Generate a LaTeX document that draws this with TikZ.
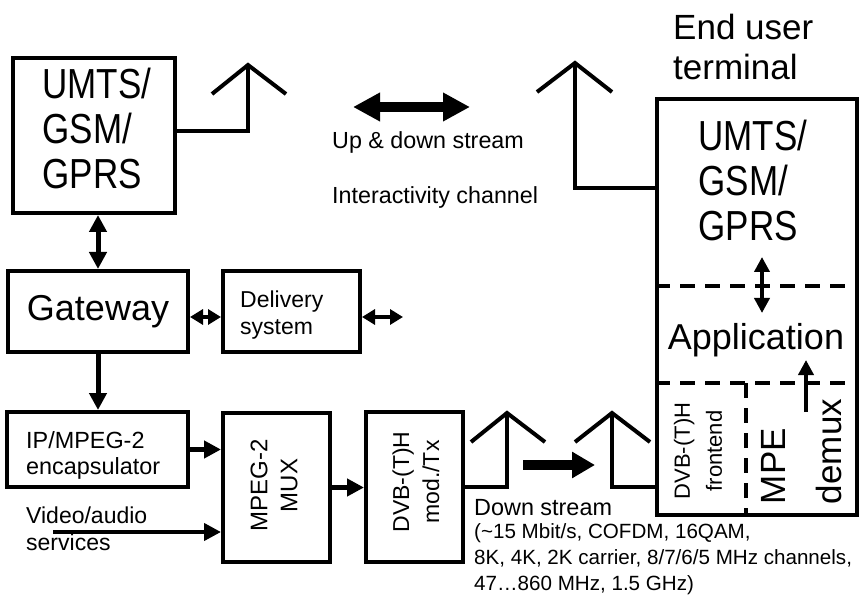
\documentclass[tikz,border=0pt]{standalone}
\usepackage{fontspec}
\setmainfont{Liberation Sans}
\usetikzlibrary{arrows.meta}
\newcommand\fs[2]{\fontsize{#1}{#2}\selectfont}
\begin{document}
\begin{tikzpicture}[x=1pt,y=-1pt,
  box/.style={draw, line width=4pt, inner sep=0pt},
  txt/.style={inner sep=0pt, align=left},
  ant/.style={line width=4pt},
  dashline/.style={line width=4pt, dash pattern=on 15pt off 10pt},
  arr/.style={line width=5pt, -{Triangle[length=17pt,width=17pt]}},
  darr/.style={line width=5pt, {Triangle[length=17pt,width=17pt]}-{Triangle[length=17pt,width=17pt]}},
  sdarr/.style={line width=4pt, {Triangle[length=13pt,width=15pt]}-{Triangle[length=13pt,width=15pt]}},
  tdarr/.style={line width=4pt, {Triangle[length=15pt,width=15pt]}-{Triangle[length=15pt,width=15pt]}},
  tarr/.style={line width=4pt, -{Triangle[length=15pt,width=15pt]}},
  bigdarr/.style={line width=10pt, {Triangle[length=27pt,width=27pt]}-{Triangle[length=27pt,width=27pt]}},
  bigarr/.style={line width=10pt, -{Triangle[length=23pt,width=25pt]}},
]
\useasboundingbox (0,0) rectangle (863,596);

% ---------- left side boxes ----------
\node[box, minimum width=162pt, minimum height=155pt] (umts) at (94,135.5) {};
\node[txt, font=\fs{35}{37.5}] (umtsT) at (97,135) {\scalebox{1}[1.2]{\begin{tabular}{@{}l@{}}UMTS/\\GSM/\\GPRS\end{tabular}}};

\node[box, minimum width=180pt, minimum height=81pt, font=\fs{36}{40}] (gw) at (98,311.5) {Gateway};

\node[box, minimum width=137pt, minimum height=81pt] (del) at (291.5,311.5) {};
\node[txt, anchor=west, font=\fs{23}{27}] (delT) at (240,315.5) {Delivery\\system};

\node[box, minimum width=181pt, minimum height=75pt] (ip) at (97.5,449.5) {};
\node[txt, anchor=west, font=\fs{23.4}{26}] (ipT) at (26,455) {IP/MPEG-2\\encapsulator};

\node[box, minimum width=107pt, minimum height=149pt] (mux) at (276.5,487.5) {};
\node[txt, align=center, rotate=90, font=\fs{24}{30}] (muxT) at (274,485.5) {MPEG-2\\MUX};

\node[box, minimum width=97pt, minimum height=150pt] (dvb) at (414.5,487) {};
\node[txt, align=center, rotate=90, font=\fs{23}{30}] (dvbT) at (416,482) {DVB-(T)H\\mod./Tx};

\node[txt, anchor=west, font=\fs{23}{27}] (vidT) at (26,528.5) {Video/audio\\services};

% ---------- end user terminal ----------
\node[box, minimum width=200pt, minimum height=416pt] (term) at (757,307) {};
\node[txt, anchor=west, font=\fs{35}{40}] (eut) at (673,47) {End user\\terminal};
\node[txt, font=\fs{35}{37.5}] (tumts) at (753,187) {\scalebox{1}[1.2]{\begin{tabular}{@{}l@{}}UMTS/\\GSM/\\GPRS\end{tabular}}};
\node[txt, font=\fs{36}{40}] (app) at (756,340) {Application};
\node[txt, align=center, rotate=90, font=\fs{22}{32}] (fe) at (698,451) {DVB-(T)H\\frontend};
\node[txt, align=left, rotate=90, font=\fs{35}{56}] (mpe) at (802,451.5) {MPE\\demux};

\coordinate (d1) at (0,286);
\coordinate (d2) at (0,383);
\coordinate (v1) at (746,383);
\draw[dashline] (term.west |- d1) -- (term.east |- d1);
\draw[dashline] (term.west |- d2) -- (term.east |- d2);
\draw[dashline] (v1) -- (v1 |- term.south);

\coordinate (t1) at (762,257);
\coordinate (t2) at (762,313);
\draw[tdarr] (t1) -- (t2);
\coordinate (t3) at (806,412);
\coordinate (t4) at (806,360);
\draw[tarr] (t3) -- (t4);

% ---------- connectors ----------
\draw[darr] (gw.north |- umts.south) -- (gw.north);
\draw[arr] (gw.south) -- (gw.south |- ip.north);
\coordinate (dy) at (0,317);
\coordinate (delout) at (403,317);
\draw[sdarr] (gw.east |- dy) -- (del.west |- dy);
\draw[sdarr] (del.east |- dy) -- (delout);
\draw[arr] (ip.east) -- (ip.east -| mux.west);
\coordinate (vidin) at (53,532);
\draw[arr, line width=4pt] (vidin) -- (vidin -| mux.west);
\draw[arr] (mux.east) -- (mux.east -| dvb.west);

% ---------- antennas ----------
\coordinate (a1) at (248,65);
\coordinate (a1b) at (248,131);
\draw[ant] (212,94) -- (a1) -- (286,94);
\draw[ant] (a1) -- (a1b) -- (umts.east |- a1b);

\coordinate (a2) at (575,63);
\coordinate (a2b) at (575,188);
\draw[ant] (537,92) -- (a2) -- (612,92);
\draw[ant] (a2) -- (a2b) -- (term.west |- a2b);

\coordinate (a3) at (507,413);
\coordinate (a3b) at (507,487);
\draw[ant] (471,442) -- (a3) -- (545,442);
\draw[ant] (a3) -- (a3b) -- (dvb.east |- a3b);

\coordinate (a4) at (612,413);
\coordinate (a4b) at (612,487);
\draw[ant] (575,442) -- (a4) -- (650,442);
\draw[ant] (a4) -- (a4b) -- (term.west |- a4b);

% ---------- streams ----------
\coordinate (ud1) at (353,107);
\coordinate (ud2) at (470,107);
\draw[bigdarr] (ud1) -- (ud2);
\node[txt, anchor=west, font=\fs{23.3}{28}] (upd) at (332,142) {Up \& down stream};
\node[txt, anchor=west, font=\fs{23.3}{28}] (ich) at (332,197) {Interactivity channel};

\coordinate (ds1) at (523,465);
\coordinate (ds2) at (595,465);
\draw[bigarr] (ds1) -- (ds2);
\node[txt, anchor=west, font=\fs{23.4}{26}] (dst) at (474,508) {Down stream};
\node[txt, anchor=west, font=\fs{20.6}{26}] (dsd) at (474,559) {(\textasciitilde 15 Mbit/s, COFDM, 16QAM,\\8K, 4K, 2K carrier, 8/7/6/5 MHz channels,\\47…860 MHz, 1.5 GHz)};
\end{tikzpicture}
\end{document}
